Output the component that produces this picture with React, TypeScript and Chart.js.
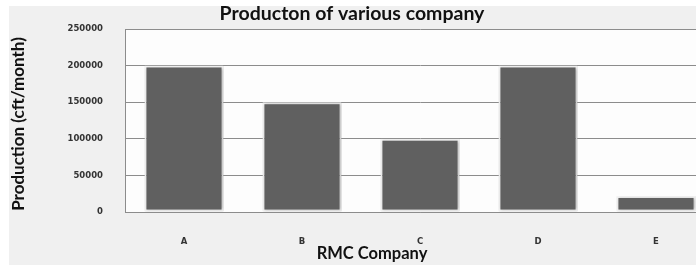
import React, { useEffect, useRef } from "react";
import { Chart, registerables } from "chart.js";
Chart.register(...registerables);

const categories = ["A", "B", "C", "D", "E"];
const production = [200000, 150000, 100000, 200000, 22000];
const yMin = 0;
const yMax = 250000;
const yStep = 50000;
const chartTitle = "Producton of various company";
const xTitle = "RMC Company";
const yTitle = "Production (cft/month)";

export default function App() {
  const ref = useRef<HTMLCanvasElement>(null);
  useEffect(() => {
    document.body.style.margin = "0";
    const canvas = ref.current!;
    const plotBg = {
      id: "plotBg",
      beforeDraw(chart: any) {
        const { ctx, chartArea: a } = chart;
        ctx.save();
        ctx.fillStyle = "#fdfdfd";
        ctx.fillRect(a.left, a.top, a.right - a.left, a.bottom - a.top);
        ctx.restore();
      },
    };
    const shadow = {
      id: "shadow",
      beforeDatasetsDraw(chart: any) {
        const ctx = chart.ctx;
        ctx.save();
        ctx.shadowColor = "rgba(0,0,0,0.25)";
        ctx.shadowBlur = 3;
        ctx.shadowOffsetX = 1;
        ctx.shadowOffsetY = 0;
      },
      afterDatasetsDraw(chart: any) {
        chart.ctx.restore();
      },
    };
    const texts = {
      id: "texts",
      afterDraw(chart: any) {
        const { ctx, chartArea: a } = chart;
        ctx.save();
        ctx.fillStyle = "#111111";
        ctx.textAlign = "center";
        ctx.textBaseline = "middle";
        ctx.font = "bold 19.5px Lato";
        ctx.fillText(chartTitle, a.left + 227, a.top - 15);
        ctx.font = "bold 16.5px Lato";
        ctx.fillText(xTitle, a.left + 247, a.bottom + 42);
        ctx.translate(10, a.top + 95);
        ctx.rotate(-Math.PI / 2);
        ctx.font = "bold 17px Lato";
        ctx.fillText(yTitle, 0, 0);
        ctx.restore();
      },
    };
    const tickFont = { family: "'DejaVu Sans'", size: 8.5, weight: "bold" as const };
    const chart = new Chart(canvas, {
      type: "bar",
      data: {
        labels: categories,
        datasets: [
          {
            data: production,
            backgroundColor: "#606060",
            borderColor: "#f4f4f4",
            borderWidth: 2,
            borderSkipped: false,
            barPercentage: 0.67,
            categoryPercentage: 1,
          },
        ],
      },
      options: {
        responsive: false,
        animation: false,
        layout: { padding: { top: 23, right: 14, left: 0, bottom: 0 } },
        plugins: { legend: { display: false }, tooltip: { enabled: false }, title: { display: false } },
        scales: {
          y: {
            min: yMin,
            max: yMax,
            ticks: {
              stepSize: yStep,
              font: tickFont,
              color: "#333333",
              padding: 22,
              callback: (v: any) => String(v),
            },
            grid: { color: "#8c8c8c", drawTicks: false },
            border: { display: true, color: "#8c8c8c" },
            afterFit(s: any) {
              s.width = 116;
              s.paddingTop = 0;
              s.paddingBottom = 0;
            },
          },
          x: {
            ticks: { font: tickFont, color: "#333333", padding: 25 },
            grid: { display: false, drawTicks: false },
            border: { display: true, color: "#8c8c8c" },
            afterFit(s: any) {
              s.height = 53;
              s.paddingLeft = 0;
              s.paddingRight = 0;
            },
          },
        },
      },
      plugins: [plotBg, shadow, texts],
    });
    return () => chart.destroy();
  }, []);
  return (
    <div style={{ position: "relative", width: 696, height: 265, overflow: "hidden", background: "#ffffff" }}>
      <div style={{ position: "absolute", left: 9, top: 6, width: 720, height: 259, background: "#f0f0f0" }}>
        <canvas ref={ref} width={720} height={259} style={{ display: "block" }} />
      </div>
    </div>
  );
}
